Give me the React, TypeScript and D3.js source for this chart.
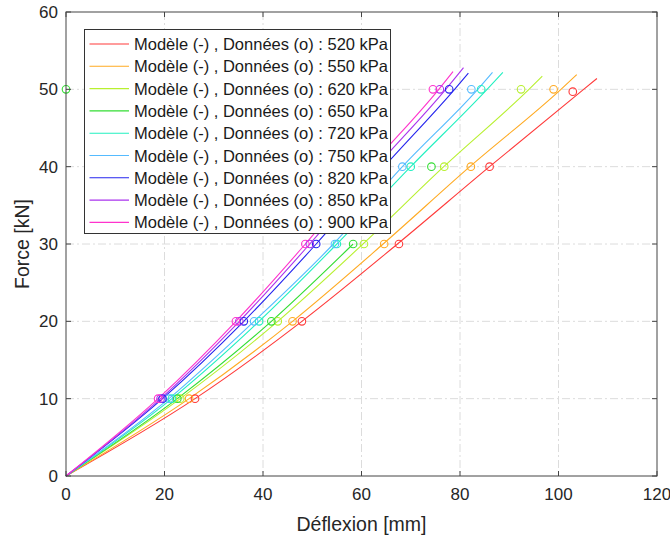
import React from "react";
import * as d3 from "d3";

const pressures = ["520", "550", "620", "650", "720", "750", "820", "850", "900"];
const colors = ["#ff3a3a", "#ffaa22", "#b8f030", "#33dd33", "#22f0c0", "#55bbff", "#2424ee", "#aa33ee", "#ff33cc"];

// Data points (o): deflection [mm] and force [kN]
const dataForce = [
  [10, 20, 30, 40, 49.7],
  [10, 20, 30, 40, 50],
  [10, 20, 30, 40, 50],
  [10, 20, 30, 40, 50],
  [10, 20, 30, 40, 50],
  [10, 20, 30, 40, 50],
  [10, 20, 30, 40, 50],
  [10, 20, 30, 40, 50],
  [10, 20, 30, 40, 50],
];
const dataDefl = [
  [26.2, 47.9, 67.6, 86.0, 102.9],
  [25.0, 46.0, 64.6, 82.2, 99.0],
  [23.2, 43.0, 60.5, 76.8, 92.4],
  [22.6, 41.7, 58.3, 74.2, 0],
  [21.5, 39.2, 55.0, 70.0, 84.3],
  [20.9, 38.2, 54.6, 68.3, 82.3],
  [19.6, 36.1, 50.8, 64.6, 77.8],
  [19.2, 35.2, 49.5, 63.0, 75.9],
  [18.7, 34.5, 48.6, 61.8, 74.5],
];

// Model curves (-)
const modelForce = [
  [0, 10, 20, 30, 40, 50, 51.4],
  [0, 10, 20, 30, 40, 50, 51.9],
  [0, 10, 20, 30, 40, 50, 51.7],
  [0, 10, 20, 30],
  [0, 10, 20, 30, 40, 50, 52.2],
  [0, 10, 20, 30, 40, 50, 52.2],
  [0, 10, 20, 30, 40, 50, 52.1],
  [0, 10, 20, 30, 40, 50, 52.8],
  [0, 10, 20, 30, 40, 50, 52.3],
];
const modelDefl = [
  [0, 26.2, 47.9, 67.3, 86.0, 105.1, 107.8],
  [0, 25.0, 46.0, 64.4, 82.0, 100.5, 103.7],
  [0, 23.2, 43.0, 60.3, 76.7, 94.0, 96.7],
  [0, 22.6, 41.7, 58.3],
  [0, 21.5, 39.2, 55.0, 70.0, 85.5, 88.7],
  [0, 20.9, 38.2, 54.3, 68.3, 83.6, 86.6],
  [0, 19.6, 36.1, 50.8, 64.6, 78.9, 81.7],
  [0, 19.2, 35.2, 49.5, 63.0, 77.1, 80.7],
  [0, 18.7, 34.5, 48.6, 61.8, 75.7, 78.6],
];

const xTicks = [0, 20, 40, 60, 80, 100, 120];
const yTicks = [0, 10, 20, 30, 40, 50, 60];

const W = 670, H = 538;
const L = 66, R = 657, T = 12, B = 476;
const FONT = "'Liberation Sans', Arial, sans-serif";

export default function App() {
  const x = d3.scaleLinear().domain([0, 120]).range([L, R]);
  const y = d3.scaleLinear().domain([0, 60]).range([B, T]);
  const line = d3
    .line<[number, number]>()
    .x((d) => x(d[0]))
    .y((d) => y(d[1]))
    .curve(d3.curveMonotoneX);

  const legX = 84.5, legY = 29.5, legW = 306, legH = 204;
  const rowH = 22.3;

  return (
    <svg width={W} height={H} style={{ position: "absolute", left: 0, top: 0, background: "#fff" }}>
      <rect x={0} y={0} width={W} height={H} fill="#fff" />
      {/* grid */}
      {xTicks.slice(1, -1).map((t) => (
        <line key={"gx" + t} x1={x(t)} x2={x(t)} y1={T} y2={B} stroke="#dcdcdc" strokeWidth={1} strokeDasharray="8,3,2,3" />
      ))}
      {yTicks.slice(1, -1).map((t) => (
        <line key={"gy" + t} x1={L} x2={R} y1={y(t)} y2={y(t)} stroke="#dcdcdc" strokeWidth={1} strokeDasharray="8,3,2,3" />
      ))}
      {/* models */}
      {pressures.map((p, i) => (
        <path
          key={"m" + p}
          d={line(modelDefl[i].map((v, j) => [v, modelForce[i][j]] as [number, number])) || ""}
          fill="none"
          stroke={colors[i]}
          strokeWidth={1.1}
        />
      ))}
      {/* data */}
      {pressures.map((p, i) =>
        dataDefl[i].map((v, j) => (
          <circle key={"d" + p + j} cx={x(v)} cy={y(dataForce[i][j])} r={3.8} fill="none" stroke={colors[i]} strokeWidth={1.1} />
        ))
      )}
      {/* axes box */}
      <rect x={L} y={T} width={R - L} height={B - T} fill="none" stroke="#444" strokeWidth={1} />
      {xTicks.map((t) => (
        <g key={"xt" + t}>
          <line x1={x(t)} x2={x(t)} y1={B} y2={B - 5} stroke="#444" />
          <line x1={x(t)} x2={x(t)} y1={T} y2={T + 5} stroke="#444" />
          <text x={x(t)} y={B + 24} textAnchor="middle" fontSize={17} fontFamily={FONT} fill="#262626">
            {t}
          </text>
        </g>
      ))}
      {yTicks.map((t) => (
        <g key={"yt" + t}>
          <line x1={L} x2={L + 5} y1={y(t)} y2={y(t)} stroke="#444" />
          <line x1={R} x2={R - 5} y1={y(t)} y2={y(t)} stroke="#444" />
          <text x={L - 8} y={y(t) + 6} textAnchor="end" fontSize={17} fontFamily={FONT} fill="#262626">
            {t}
          </text>
        </g>
      ))}
      <text x={(L + R) / 2} y={531} textAnchor="middle" fontSize={19.5} fontFamily={FONT} fill="#262626">
        Déflexion [mm]
      </text>
      <text
        transform={`translate(29,${(T + B) / 2}) rotate(-90)`}
        textAnchor="middle"
        fontSize={19.5}
        fontFamily={FONT}
        fill="#262626"
      >
        Force [kN]
      </text>
      {/* legend */}
      <rect x={legX} y={legY} width={legW} height={legH} fill="#fff" stroke="#333" strokeWidth={1} />
      {pressures.map((p, i) => {
        const cy = 44 + i * rowH;
        return (
          <g key={"l" + p}>
            <line x1={89.5} x2={129} y1={cy} y2={cy} stroke={colors[i]} strokeWidth={1.1} />
            <text x={134} y={cy + 6} fontSize={16.5} fontFamily={FONT} fill="#1a1a1a">
              {`Modèle (-) , Données (o) : ${p} kPa`}
            </text>
          </g>
        );
      })}
    </svg>
  );
}
